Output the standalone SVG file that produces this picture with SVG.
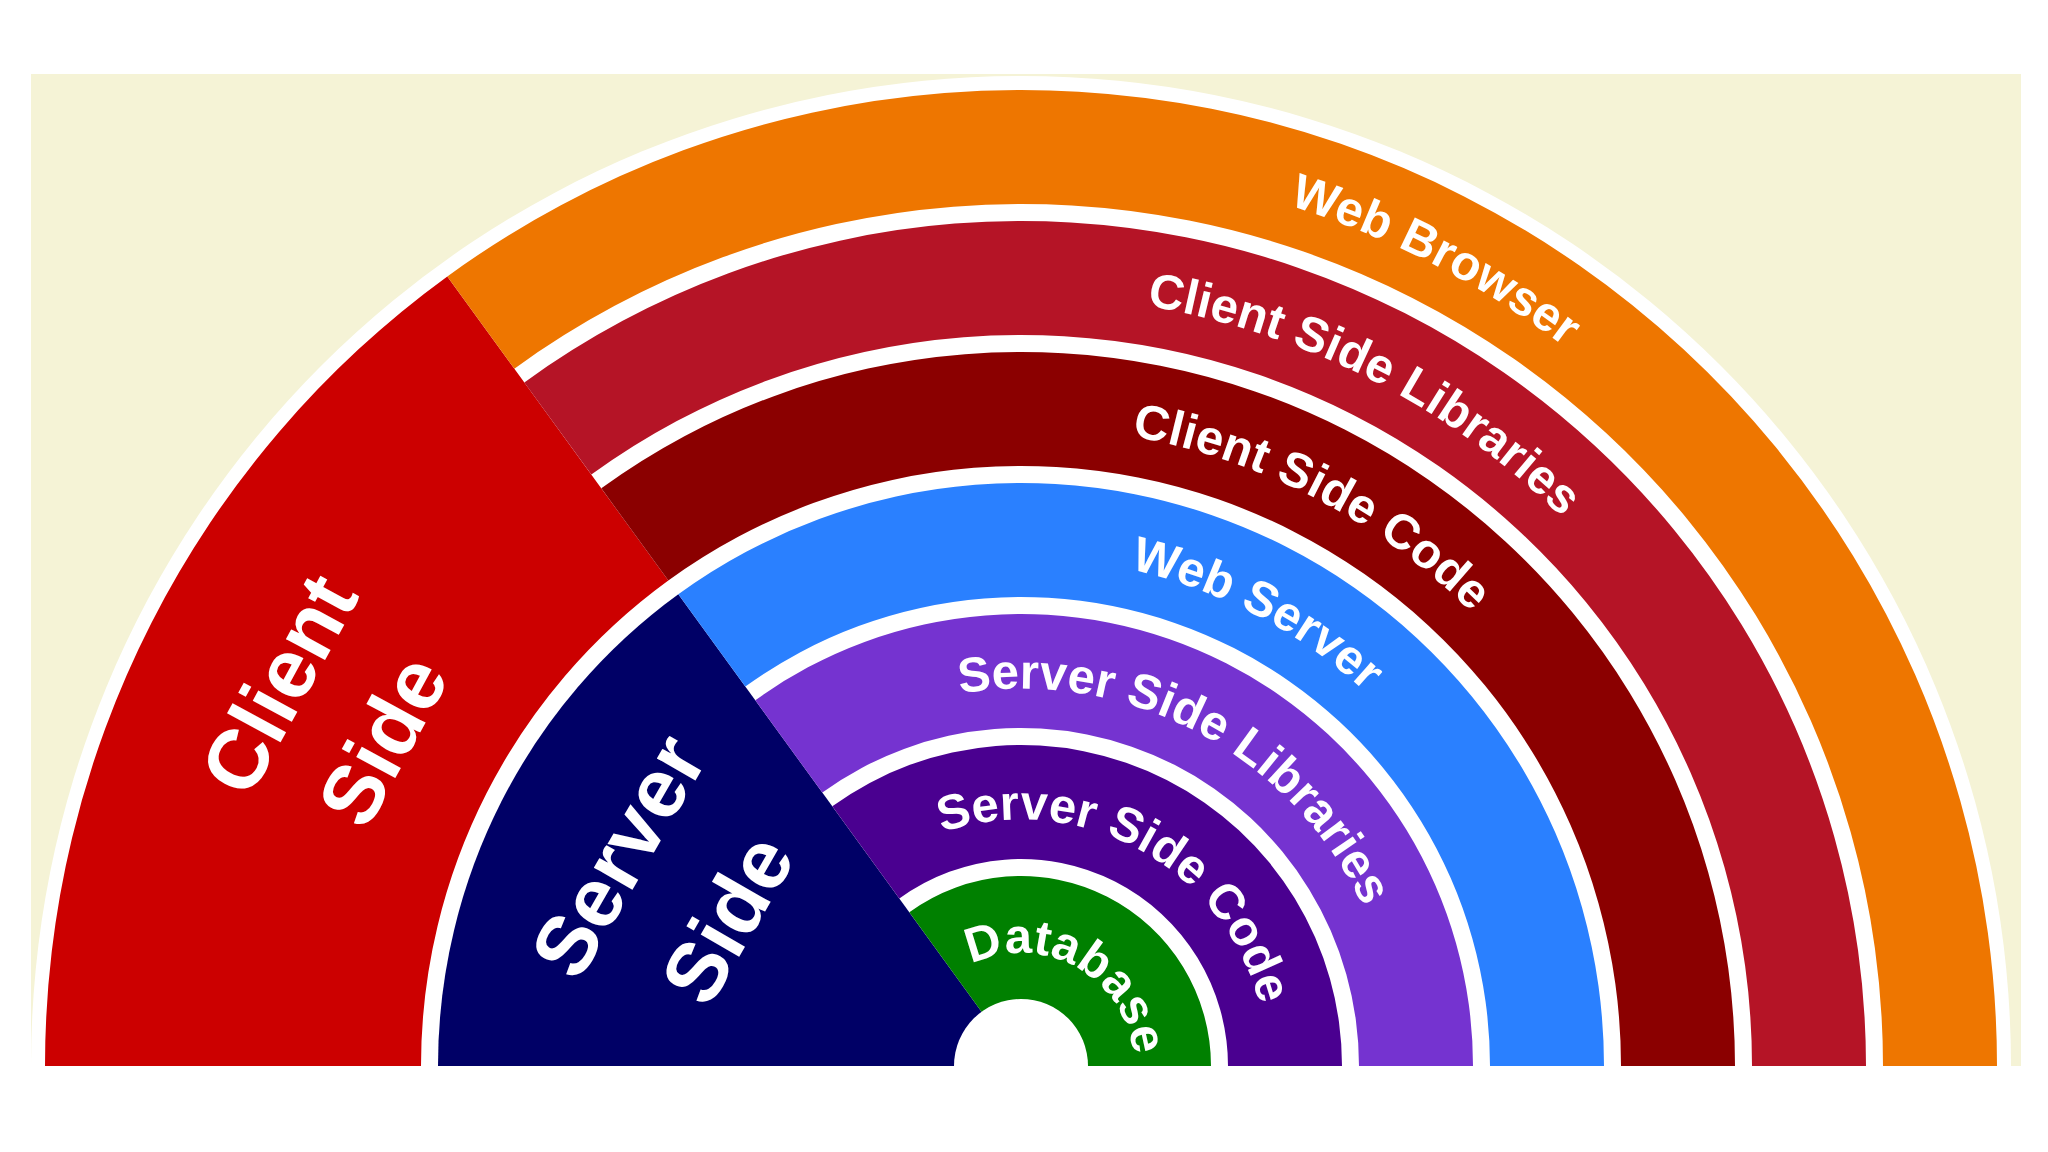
<svg xmlns="http://www.w3.org/2000/svg" xmlns:xlink="http://www.w3.org/1999/xlink" width="2048" height="1152" viewBox="0 0 2048 1152">
  <style>
    .lbl { font-family: "Liberation Sans", Arial, sans-serif; font-weight: bold; fill: #ffffff; font-size: 49px; }
    .big { font-family: "Liberation Sans", Arial, sans-serif; font-weight: bold; fill: #ffffff; font-size: 84px; text-anchor: middle; }
  </style>
  <defs>
    <path id="a1" d="M133.20,909.46 A901.5 901.5 0 0 1 1908.80,909.46"/>
    <path id="a2" d="M262.21,932.20 A770.5 770.5 0 0 1 1779.79,932.20"/>
    <path id="a3" d="M391.22,954.95 A639.5 639.5 0 0 1 1650.78,954.95"/>
    <path id="a4" d="M520.23,977.70 A508.5 508.5 0 0 1 1521.77,977.70"/>
    <path id="a5" d="M649.24,1000.45 A377.5 377.5 0 0 1 1392.76,1000.45"/>
    <path id="a6" d="M778.24,1023.20 A246.5 246.5 0 0 1 1263.76,1023.20"/>
    <path id="a7" d="M909.72,1046.38 A113 113 0 0 1 1132.28,1046.38"/>
  </defs>
  <rect x="0" y="0" width="2048" height="1152" fill="#ffffff"/>
  <rect x="31" y="74" width="1990" height="992" fill="#F5F3D6"/>
  <path d="M31,1066 A990 990 0 0 1 2011,1066 Z" fill="#ffffff"/>

  <g id="client-side">
    <path d="M45,1066 A976 976 0 0 1 447.32,276.40 L668.33,580.59 A600 600 0 0 0 421,1066 Z" fill="#CC0000"/>
    <g transform="translate(330,712) rotate(-61.5)">
      <text class="big" x="0" y="-29">Client</text>
      <text class="big" x="0" y="89">Side</text>
    </g>
  </g>

  <g id="server-side">
    <path d="M1021,1066 L438,1066 A583 583 0 0 1 678.32,594.34 Z" fill="#000066"/>
    <g transform="translate(672,887) rotate(-60)">
      <text class="big" x="0" y="-33">Server</text>
      <text class="big" x="0" y="93">Side</text>
    </g>
  </g>

  <g id="web-browser">
    <path d="M447.32,276.40 A976 976 0 0 1 1997,1066 L1883,1066 A862 862 0 0 0 514.33,368.63 Z" fill="#EE7600"/>
    <text class="lbl" transform="rotate(27.2 1021 1066)"><textPath xlink:href="#a1" startOffset="50%" text-anchor="middle">Web Browser</textPath></text>
  </g>
  <g id="client-side-libraries">
    <path d="M524.32,382.38 A845 845 0 0 1 1866,1066 L1752,1066 A731 731 0 0 0 591.33,474.61 Z" fill="#B51426"/>
    <text class="lbl" transform="rotate(27 1021 1066)"><textPath xlink:href="#a2" startOffset="50%" text-anchor="middle">Client Side Libraries</textPath></text>
  </g>
  <g id="client-side-code">
    <path d="M601.32,488.36 A714 714 0 0 1 1735,1066 L1621,1066 A600 600 0 0 0 668.33,580.59 Z" fill="#8B0000"/>
    <text class="lbl" transform="rotate(27.4 1021 1066)"><textPath xlink:href="#a3" startOffset="50%" text-anchor="middle">Client Side Code</textPath></text>
  </g>
  <g id="web-server">
    <path d="M678.32,594.34 A583 583 0 0 1 1604,1066 L1490,1066 A469 469 0 0 0 745.33,686.57 Z" fill="#2A80FF"/>
    <text class="lbl" transform="rotate(27.5 1021 1066)"><textPath xlink:href="#a4" startOffset="50%" text-anchor="middle">Web Server</textPath></text>
  </g>
  <g id="server-side-libraries">
    <path d="M755.32,700.32 A452 452 0 0 1 1473,1066 L1359,1066 A338 338 0 0 0 822.33,792.55 Z" fill="#7533D0"/>
    <text class="lbl" transform="rotate(27.9 1021 1066)"><textPath xlink:href="#a5" startOffset="50%" text-anchor="middle">Server Side Libraries</textPath></text>
  </g>
  <g id="server-side-code">
    <path d="M832.32,806.31 A321 321 0 0 1 1342,1066 L1228,1066 A207 207 0 0 0 899.33,898.53 Z" fill="#4A0090"/>
    <text class="lbl" transform="rotate(28.5 1021 1066)"><textPath xlink:href="#a6" startOffset="50%" text-anchor="middle">Server Side Code</textPath></text>
  </g>
  <g id="database">
    <path d="M909.32,912.29 A190 190 0 0 1 1211,1066 L1081,1066 A60 60 0 0 0 985.73,1017.46 Z" fill="#008000"/>
    <text class="lbl" transform="rotate(29.2 1021 1066)"><textPath xlink:href="#a7" startOffset="50%" text-anchor="middle">Database</textPath></text>
  </g>
  <path id="hub" d="M954,1066 A67 67 0 0 1 1088,1066 Z" fill="#ffffff"/>
  <g id="connectors"></g>
</svg>
